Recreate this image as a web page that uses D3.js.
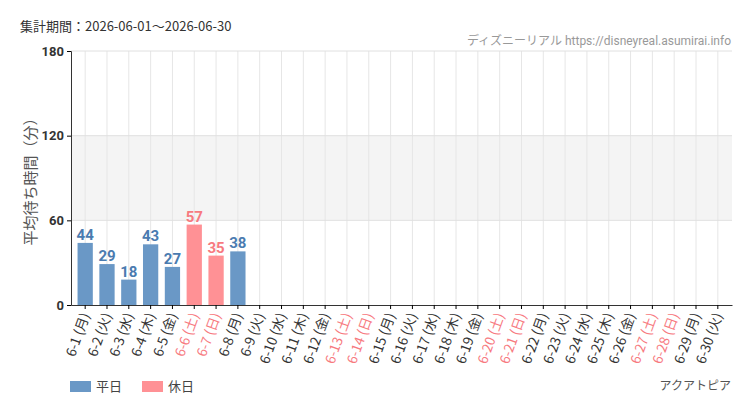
<!DOCTYPE html>
<html><head><meta charset="utf-8">
<script src="https://cdn.jsdelivr.net/npm/d3@7"></script>
<style>body{margin:0;background:#fff}</style>
</head><body>
<div id="chart"></div>
<script>
const days = d3.range(1, 31).map(d => "6-" + d);
const weekdays = ["月","火","水","木","金","土","日"];
const values = [44, 29, 18, 43, 27, 57, 35, 38];
const yTicks = [0, 60, 120, 180];

const W = 750, H = 410;
const margin = { top: 51, right: 18, bottom: 105, left: 71 };
const width = W - margin.left - margin.right;
const height = H - margin.top - margin.bottom;
const font = "'Liberation Sans Narrow','Roboto','Noto Sans CJK JP',sans-serif";
const jp = "'Noto Sans CJK JP',sans-serif";

const svg = d3.select("#chart").append("svg").attr("width", W).attr("height", H);
const g = svg.append("g").attr("transform", "translate(" + margin.left + "," + margin.top + ")");

const x = d3.scaleBand().domain(days).range([0, width]).padding(0.3);
const y = d3.scaleLinear().domain([0, 180]).range([height, 0]);
const wd = i => weekdays[i % 7];
const isHoliday = i => i % 7 >= 5;
const blue = "#6a98c6", red = "#ff9195", redText = "#f77a7f", blueText = "#4a7bb0";

g.append("rect").attr("x", 0).attr("width", width)
    .attr("y", y(120)).attr("height", y(60) - y(120)).attr("fill", "#f4f4f4");

g.selectAll(".vg").data(days).enter().append("line")
    .attr("x1", d => x(d) + x.bandwidth() / 2).attr("x2", d => x(d) + x.bandwidth() / 2)
    .attr("y1", 0).attr("y2", height).attr("stroke", "#e6e6e6");
g.selectAll(".hg").data(yTicks.slice(1)).enter().append("line")
    .attr("x1", 0).attr("x2", width).attr("y1", d => y(d)).attr("y2", d => y(d))
    .attr("stroke", "#e0e0e0");

const bars = values.map((v, i) => ({ day: days[i], v, i }));
g.selectAll(".bar").data(bars).enter().append("rect")
    .attr("x", d => x(d.day)).attr("width", x.bandwidth())
    .attr("y", d => y(d.v)).attr("height", d => height - y(d.v))
    .attr("fill", d => isHoliday(d.i) ? red : blue);
g.selectAll(".lbl").data(bars).enter().append("text")
    .attr("x", d => x(d.day) + x.bandwidth() / 2).attr("y", d => y(d.v) - 3)
    .attr("text-anchor", "middle").attr("font-family", font).attr("font-size", 15)
    .attr("font-weight", "bold")
    .attr("fill", d => isHoliday(d.i) ? redText : blueText).text(d => d.v);

const yAxis = g.append("g").call(d3.axisLeft(y).tickValues(yTicks).tickSize(4));
yAxis.select(".domain").attr("stroke", "#333");
yAxis.selectAll("text").attr("font-family", font).attr("font-size", 13).attr("fill", "#333").attr("font-weight", "bold");

const xAxis = g.append("g").attr("transform", "translate(0," + height + ")")
    .call(d3.axisBottom(x).tickSize(4).tickSizeOuter(0).tickFormat(() => ""));
xAxis.select(".domain").attr("stroke", "#333");
xAxis.selectAll(".tick").append("text")
    .attr("transform", "translate(5,10) rotate(-70)")
    .attr("text-anchor", "end").attr("font-family", jp).attr("font-size", 13.5)
    .attr("fill", (d, i) => isHoliday(i) ? redText : "#333")
    .text((d, i) => d + " (" + wd(i) + ")");

svg.append("text").attr("transform", "translate(36," + (margin.top + height / 2) + ") rotate(-90)")
    .attr("text-anchor", "middle").attr("font-family", jp).attr("font-size", 15).attr("fill", "#555")
    .text("平均待ち時間（分）");

svg.append("text").attr("x", 20).attr("y", 31).attr("font-family", jp).attr("font-size", 13)
    .attr("fill", "#333").text("集計期間：2026-06-01〜2026-06-30");
svg.append("text").attr("x", 731).attr("y", 45).attr("text-anchor", "end").attr("font-family", font)
    .attr("font-size", 12).attr("fill", "#999").text("ディズニーリアル https://disneyreal.asumirai.info");
svg.append("text").attr("x", 731).attr("y", 390).attr("text-anchor", "end").attr("font-family", jp)
    .attr("font-size", 12).attr("fill", "#555").text("アクアトピア");

const legend = [["平日", blue], ["休日", red]];
const lg = svg.selectAll(".lg").data(legend).enter().append("g")
    .attr("transform", (d, i) => "translate(" + (70 + i * 72) + ",381)");
lg.append("rect").attr("width", 21).attr("height", 11).attr("fill", d => d[1]);
lg.append("text").attr("x", 26).attr("y", 10).attr("font-family", jp).attr("font-size", 13)
    .attr("fill", "#444").text(d => d[0]);
</script>
</body></html>
